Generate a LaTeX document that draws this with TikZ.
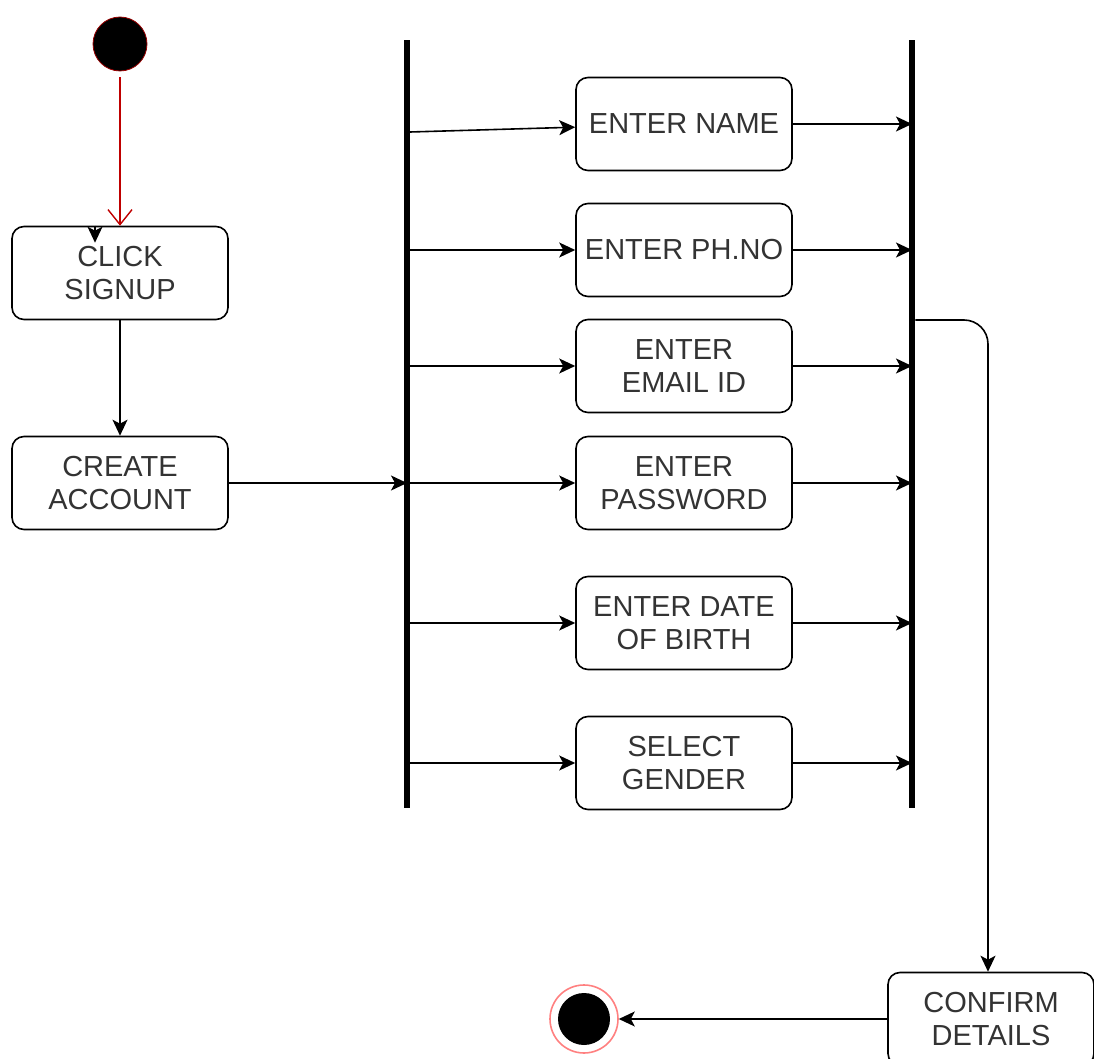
\documentclass[tikz,border=0pt]{standalone}
\usepackage{fontspec}
\setmainfont{Liberation Sans}
\usetikzlibrary{arrows.meta}
\begin{document}
\begin{tikzpicture}[x=0.5pt,y=-0.5pt,
        act style/.style={draw,rounded corners=6pt,line width=0.8pt,minimum width=108pt,minimum height=46.5pt,
          inner sep=0pt,align=center,text=black!80,font=\fontsize{14.5}{16.5}\selectfont},
        bar style/.style={fill=black,inner sep=0pt,minimum width=3pt,minimum height=384pt},
        arr/.style={-{Stealth[length=8pt,width=7.5pt,inset=2pt]},line width=0.8pt}]
        \useasboundingbox (0,0) rectangle (1094,1059);
        % start and first steps
        \node[circle,fill=black,draw=red!60!black,line width=0.4pt,minimum size=27pt,inner sep=0pt] (start) at (120,44) {};
        \node[act style] (click) at (120,273) {CLICK\\SIGNUP};
        \node[act style] (create) at (120,483) {CREATE\\ACCOUNT};
        \draw[red!75!black,line width=0.7pt,shorten <=3pt,-{Straight Barb[length=7.5pt,width=12pt]}] (start) -- (click);
        \draw[arr] ([xshift=-12.5pt]click.north) -- ++(0,17);
        \draw[arr] (click) -- (create);
        % fork and join bars
        \node[bar style] (fork) at (407,424) {};
        \node[bar style] (join) at (912,424) {};
        \draw[arr] (create) -- (create -| fork.center);
        \node[act style] (name) at (684,124) {ENTER NAME};
        \node[act style] (phone) at (684,250) {ENTER PH.NO};
        \node[act style] (email) at (684,366) {ENTER\\EMAIL ID};
        \node[act style] (pass) at (684,483) {ENTER\\PASSWORD};
        \node[act style] (dob) at (684,623) {ENTER DATE\\OF BIRTH};
        \node[act style] (gender) at (684,763) {SELECT\\GENDER};
        \coordinate (slant) at (410,132);
        \draw[arr] (slant) -- (name);
        \foreach \n in {phone,email,pass,dob,gender}
          \draw[arr] (fork.east |- \n) -- (\n);
        \foreach \n in {name,phone,email,pass,dob,gender}
          \draw[arr] (\n) -- (join.center |- \n);
        % confirm and end
        \node[act style,minimum width=103pt] (confirm) at (991,1019) {CONFIRM\\DETAILS};
        \coordinate (turn) at (988,320);
        \draw[arr,rounded corners=12pt] (join.east |- turn) -- (turn) -- (turn |- confirm.north);
        \node[circle,draw=red!50,line width=0.8pt,minimum size=34pt,inner sep=0pt,
          path picture={\fill[black] (path picture bounding box.center) circle (13pt);}] (stop) at (584,1019) {};
        \draw[arr] (confirm) -- (stop);
\end{tikzpicture}
\end{document}
